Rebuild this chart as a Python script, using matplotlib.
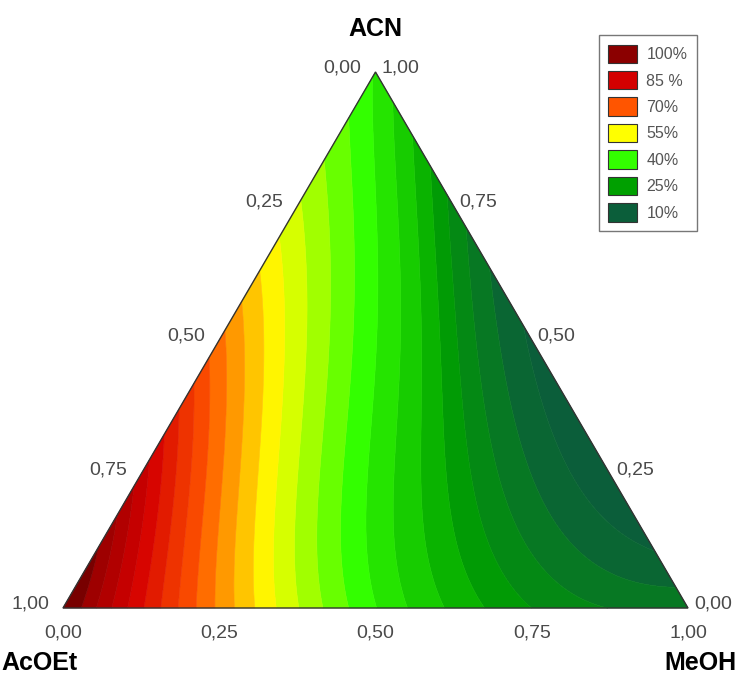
import numpy as np
import matplotlib
matplotlib.use("Agg")
import matplotlib.pyplot as plt
import matplotlib.tri as mtri
from matplotlib.colors import LinearSegmentedColormap, Normalize
from matplotlib.patches import Patch, Polygon
from matplotlib.transforms import offset_copy

# ---------------- data ----------------
# sampled compositions (fractions) and response (%)
acn = [0, 0, 0, 0, 0, 0, 0, 0, 0,
       .125, .125, .125, .125, .125, .125, .125, .125,
       .25, .25, .25, .25, .25, .25, .25,
       .375, .375, .375, .375, .375, .375,
       .5, .5, .5, .5, .5,
       .625, .625, .625, .625,
       .75, .75, .75,
       .875, .875,
       1.0]
meoh = [0, .125, .25, .375, .5, .625, .75, .875, 1.0,
        0, .125, .25, .375, .5, .625, .75, .875,
        0, .125, .25, .375, .5, .625, .75,
        0, .125, .25, .375, .5, .625,
        0, .125, .25, .375, .5,
        0, .125, .25, .375,
        0, .125, .25,
        0, .125,
        0]
response = [101, 89, 62, 47, 39, 30, 22, 18.5, 17.5,
            96, 77, 55, 43, 34, 24, 13, 9.5,
            89, 65, 49, 38.5, 28, 9, 8,
            80, 57, 44, 34, 16, 8,
            67, 51, 38.5, 26, 8.5,
            58, 44, 33, 13,
            51, 38, 20,
            44, 31,
            37]

legend_labels = ["100%", "85 %", "70%", "55%", "40%", "25%", "10%"]
legend_values = [100, 85, 70, 55, 40, 25, 10]
legend_colors = ["#8B0000", "#D40000", "#FF5500", "#FFFF00", "#33FF00", "#00A000", "#0B5E3A"]

tick_values = [0.0, 0.25, 0.5, 0.75, 1.0]
tick_labels = ["0,00", "0,25", "0,50", "0,75", "1,00"]

# ---------------- figure ----------------
W, H = 738, 677
fig = plt.figure(figsize=(W / 100, H / 100), dpi=100)
ax = fig.add_axes([0, 0, 1, 1])
ax.set_axis_off()

# pixel geometry of the triangle
x0_px, base_px, w_px, h_px = 63, 608, 625, 536
sx = w_px
sy = h_px / (np.sqrt(3) / 2)
ax.set_xlim(-x0_px / sx, (W - x0_px) / sx)
ax.set_ylim(-(H - base_px) / sy, base_px / sy)

R3 = np.sqrt(3) / 2
a = np.array(acn, dtype=float)
m = np.array(meoh, dtype=float)
v = np.array(response, dtype=float)
X = m + a / 2
Y = a * R3

# smooth response surface: least-squares polynomials (linear and log scale),
# blended so the high range follows the linear fit and the low range the log fit
DEG = 4
def design(x, y):
    return np.column_stack([x ** i * y ** j for i in range(DEG + 1)
                            for j in range(DEG + 1 - i)])
coef_lin, *_ = np.linalg.lstsq(design(X, Y), v, rcond=None)
coef_log, *_ = np.linalg.lstsq(design(X, Y), np.log(v), rcond=None)

tri = mtri.Triangulation(X, Y)
tri_f = mtri.UniformTriRefiner(tri).refine_triangulation(subdiv=4)
D = design(tri_f.x, tri_f.y)
v_lin = D @ coef_lin
v_log = np.exp(D @ coef_log)
w = np.clip((v_lin - 22) / 12, 0, 1)
v_f = w * v_lin + (1 - w) * v_log

stops = sorted(zip(legend_values, legend_colors))
cmap = LinearSegmentedColormap.from_list(
    "resp", [((val - 10) / 90, c) for val, c in stops])
cmap.set_over("#780000")
cmap.set_under("#0B5E3A")
norm = Normalize(vmin=10, vmax=100)
levels = np.arange(10, 102, 4)
cs = ax.tricontourf(tri_f, v_f, levels=levels, cmap=cmap, norm=norm,
                    extend="both", antialiased=True)
cs.set_edgecolor("face")
cs.set_linewidth(0.4)

# triangle outline
verts = np.array([[0, 0], [1, 0], [0.5, R3]])
ax.add_patch(Polygon(verts, closed=True, fill=False, edgecolor="#333333", lw=1.0, zorder=5))

tick_kw = dict(fontsize=14, color="#4a4a4a", family="Liberation Sans")

# bottom axis: MeOH fraction
for t, lab in zip(tick_values, tick_labels):
    tr = offset_copy(ax.transData, fig=fig, x=0, y=-25, units="dots")
    ax.text(t, 0, lab, transform=tr, ha="center", va="center", **tick_kw)

# left edge: AcOEt fraction (1 at bottom-left, 0 at top)
for t, lab in zip(tick_values, tick_labels):
    acn_val = 1 - t
    px, py = acn_val / 2, acn_val * R3
    tr = offset_copy(ax.transData, fig=fig, x=-14, y=4, units="dots")
    ax.text(px, py, lab, transform=tr, ha="right", va="center", **tick_kw)

# right edge: ACN fraction (0 at bottom-right, 1 at top)
for t, lab in zip(tick_values, tick_labels):
    px, py = 1 - t / 2, t * R3
    tr = offset_copy(ax.transData, fig=fig, x=6, y=4, units="dots")
    ax.text(px, py, lab, transform=tr, ha="left", va="center", **tick_kw)

# vertex names
name_kw = dict(fontsize=18, fontweight="bold", color="black", family="Liberation Sans")
ax.text(0.5, R3, "ACN", transform=offset_copy(ax.transData, fig=fig, x=0, y=43, units="dots"),
        ha="center", va="center", **name_kw)
ax.text(0, 0, "AcOEt", transform=offset_copy(ax.transData, fig=fig, x=-62, y=-55, units="dots"),
        ha="left", va="center", **name_kw)
ax.text(1, 0, "MeOH", transform=offset_copy(ax.transData, fig=fig, x=49, y=-55, units="dots"),
        ha="right", va="center", **name_kw)

# legend
handles = [Patch(facecolor=c, edgecolor="#333333", linewidth=0.8) for c in legend_colors]
leg = ax.legend(handles, legend_labels, loc="upper right",
                bbox_to_anchor=(697 / W, 1 - 35 / H), bbox_transform=fig.transFigure,
                borderaxespad=0,
                prop={"family": "Liberation Sans", "size": 11.5},
                handlelength=1.8, handleheight=1.4, labelspacing=0.5,
                handletextpad=0.6, borderpad=0.6, fancybox=False,
                framealpha=1, edgecolor="#777777")
for txt in leg.get_texts():
    txt.set_color("#555555")
leg.get_frame().set_linewidth(1.0)

fig.savefig("out.png", dpi=100)
